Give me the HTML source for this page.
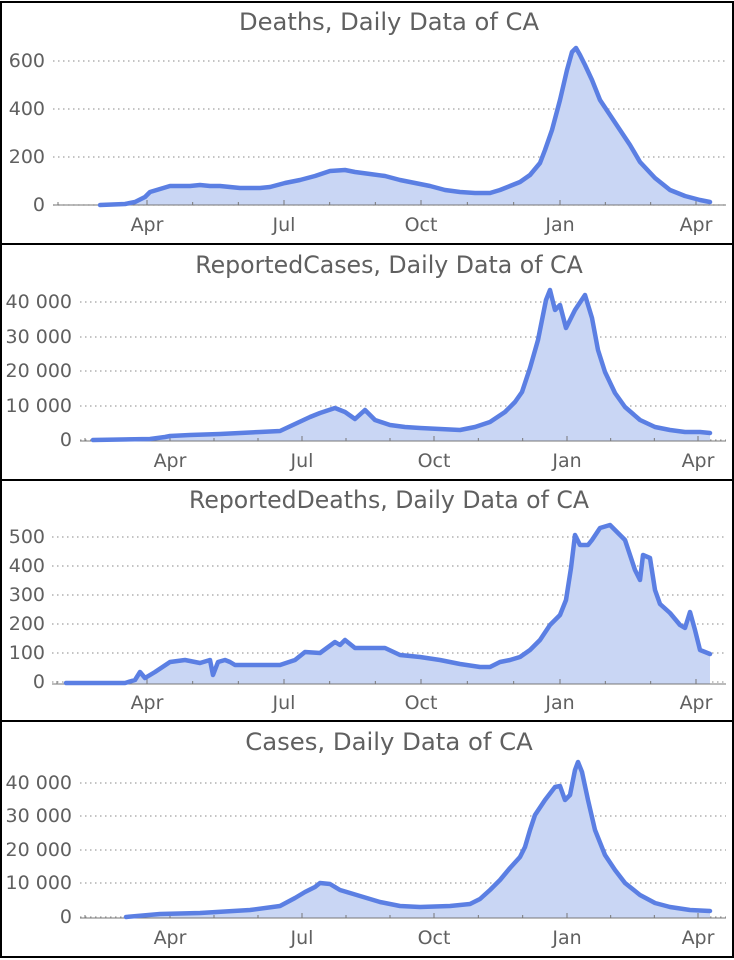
<!DOCTYPE html>
<html><head><meta charset="utf-8"><style>
html,body{margin:0;padding:0;background:#fff;}
svg{display:block;font-family:"DejaVu Sans","Liberation Sans",sans-serif;}
</style></head><body>
<svg id="s" width="734" height="960" viewBox="0 0 734 960"></svg>
<script>
const P=[
{t:"Deaths, Daily Data of CA",top:2,bot:244,ty:22,ax0:53,ay:205,lx:45,lab:[[0,205,"0"],[200,157,"200"],[400,109,"400"],[600,61,"600"]],
 xt:[147,284,421,560,696],xl:225,
 d:[[100,205],[125,204],[135,202],[145,197],[150,192],[160,189],[170,186],[180,186],[190,186],[200,185],[210,186],[220,186],[230,187],[240,188],[250,188],[260,188],[270,187],[285,183],[300,180],[315,176],[330,171],[345,170],[355,172],[370,174],[385,176],[400,180],[415,183],[430,186],[445,190],[460,192],[475,193],[490,193],[500,190],[510,186],[520,182],[530,175],[540,163],[545,150],[552,130],[560,100],[567,70],[572,52],[576,48],[580,55],[585,65],[592,80],[600,100],[610,115],[620,130],[630,145],[640,162],[655,178],[670,190],[685,196],[700,200],[710,202]]},
{t:"ReportedCases, Daily Data of CA",top:244,bot:480,ty:265,ax0:80,ay:441,lx:72,lab:[[0,440,"0"],[0,406,"10 000"],[0,371,"20 000"],[0,337,"30 000"],[0,302,"40 000"]],
 xt:[170,302,434,567,698],xl:461,
 d:[[93,440],[150,439],[165,437],[170,436],[190,435],[220,434],[240,433],[260,432],[280,431],[295,424],[310,417],[320,413],[335,408],[345,412],[355,419],[365,410],[375,420],[390,425],[405,427],[420,428],[440,429],[460,430],[475,427],[490,422],[505,412],[515,402],[522,392],[530,368],[538,340],[546,300],[550,290],[555,310],[560,305],[566,328],[575,310],[585,295],[592,318],[598,350],[605,372],[615,393],[625,407],[640,420],[655,427],[670,430],[685,432],[700,432],[710,433]]},
{t:"ReportedDeaths, Daily Data of CA",top:480,bot:721,ty:500,ax0:52,ay:684,lx:45,lab:[[0,682,"0"],[0,653,"100"],[0,624,"200"],[0,595,"300"],[0,566,"400"],[0,537,"500"]],
 xt:[147,284,421,560,696],xl:703,
 d:[[66,683],[125,683],[135,680],[140,672],[145,678],[155,672],[170,662],[185,660],[200,663],[210,660],[213,675],[218,662],[225,660],[230,662],[235,665],[245,665],[260,665],[280,665],[295,660],[305,652],[320,653],[335,642],[340,645],[345,640],[355,648],[370,648],[385,648],[400,655],[420,657],[440,660],[460,664],[480,667],[490,667],[500,662],[510,660],[520,657],[530,650],[540,640],[550,625],[560,615],[566,600],[571,568],[575,535],[580,545],[588,545],[592,540],[600,528],[610,525],[620,535],[625,540],[635,570],[640,580],[643,555],[650,558],[655,590],[660,604],[670,613],[680,625],[685,628],[690,612],[695,630],[700,650],[710,654]]},
{t:"Cases, Daily Data of CA",top:721,bot:957,ty:742,ax0:80,ay:918,lx:72,lab:[[0,917,"0"],[0,883,"10 000"],[0,850,"20 000"],[0,816,"30 000"],[0,783,"40 000"]],
 xt:[170,302,434,567,698],xl:938,
 d:[[126,917],[160,914],[200,913],[250,910],[280,906],[295,898],[305,892],[315,887],[320,883],[330,884],[340,890],[360,896],[380,902],[400,906],[420,907],[450,906],[470,904],[480,899],[490,890],[500,880],[510,868],[520,857],[525,847],[530,830],[535,815],[545,800],[555,787],[560,786],[565,800],[570,795],[575,770],[578,762],[582,772],[588,800],[595,830],[605,855],[615,870],[625,883],[640,895],[655,903],[670,907],[690,910],[710,911]]}
];
const labs=["Apr","Jul","Oct","Jan","Apr"];
let h="";
for(const p of P){
 h+=`<rect x="1" y="${p.top}" width="732" height="${p.bot-p.top}" fill="none" stroke="#000" stroke-width="2"/>`;
 h+=`<text x="389" y="${p.ty+8}" font-size="24" fill="#606060" text-anchor="middle" textLength="${p.t.length*12.5}" lengthAdjust="spacingAndGlyphs">${p.t}</text>`;
 for(const l of p.lab){
  h+=`<line x1="${p.ax0}" x2="726" y1="${l[1]}" y2="${l[1]}" stroke="#a0a0a0" stroke-width="1.2" stroke-dasharray="1.5 3.5"/>`;
  h+=`<text x="${p.lx}" y="${l[1]+6}" font-size="19" fill="#606060" text-anchor="end">${l[2]}</text>`;
 }
 let pts=p.d.map(a=>a.join(",")).join(" ");
 let last=p.d[p.d.length-1],first=p.d[0];
 h+=`<polygon points="${first[0]},${p.ay} ${pts} ${last[0]},${p.ay}" fill="#c9d6f4"/>`;
 h+=`<line x1="${p.ax0}" x2="726" y1="${p.ay}" y2="${p.ay}" stroke="#777" stroke-width="1"/>`;
 p.xt.forEach((x,i)=>{
  h+=`<line x1="${x}" x2="${x}" y1="${p.ay}" y2="${p.ay-5}" stroke="#777"/>`;
  h+=`<text x="${x}" y="${p.xl+6}" font-size="19" fill="#606060" text-anchor="middle">${labs[i]}</text>`;
  if(i<4){let m1=x+(p.xt[i+1]-x)/3,m2=x+2*(p.xt[i+1]-x)/3;
   h+=`<line x1="${m1}" x2="${m1}" y1="${p.ay}" y2="${p.ay-3}" stroke="#777"/><line x1="${m2}" x2="${m2}" y1="${p.ay}" y2="${p.ay-3}" stroke="#777"/>`;}
 });
 h+=`<line x1="${p.ax0+5}" x2="${p.ax0+5}" y1="${p.ay}" y2="${p.ay-3}" stroke="#777"/>`;
 h+=`<polyline points="${pts}" fill="none" stroke="#5b7fe3" stroke-width="4.5" stroke-linejoin="round" stroke-linecap="round"/>`;
}
document.getElementById("s").innerHTML=h;
</script>
</body></html>
